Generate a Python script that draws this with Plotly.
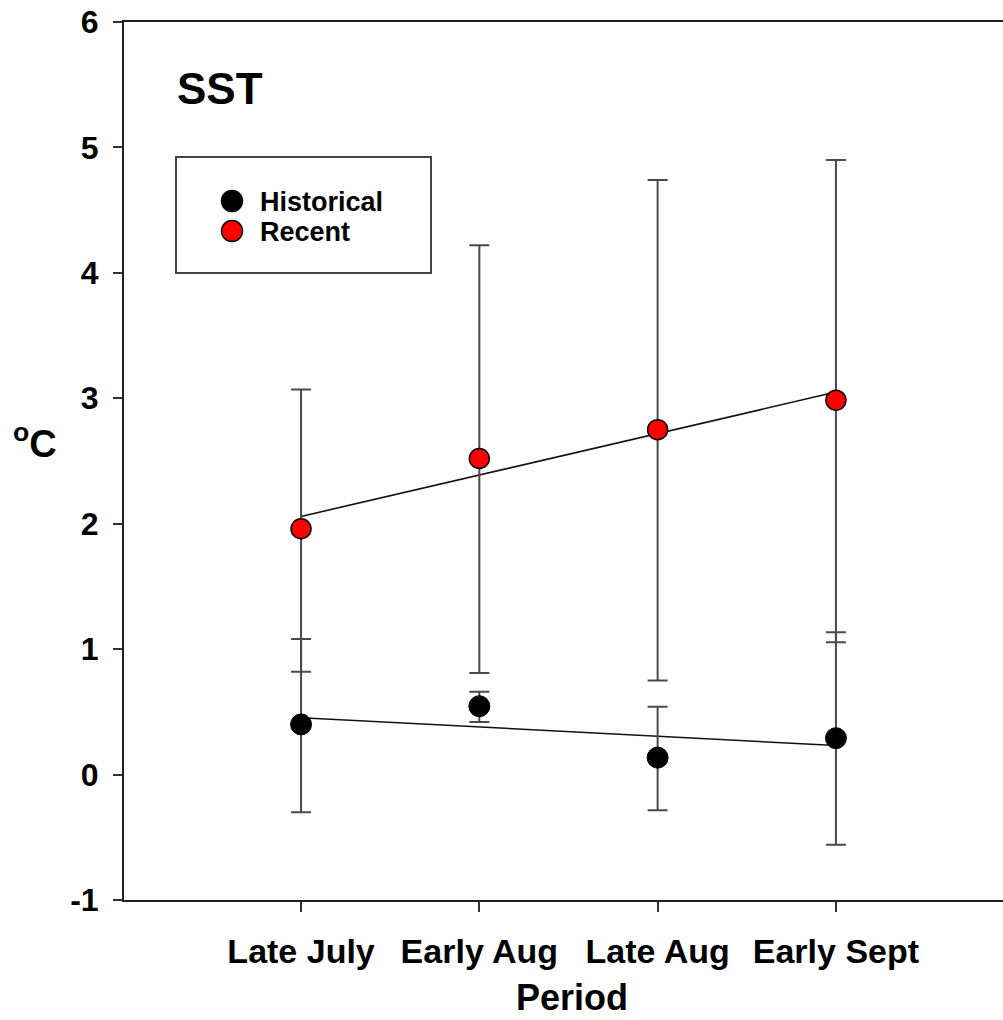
import numpy as np
import plotly.graph_objects as go

periods = ["Late July", "Early Aug", "Late Aug", "Early Sept"]
x_pos = [0, 1, 2, 3]

historical = [0.40, 0.545, 0.135, 0.29]
hist_err_plus = [0.68, 0.115, 0.405, 0.845]
hist_err_minus = [0.70, 0.125, 0.42, 0.85]

recent = [1.96, 2.52, 2.75, 2.985]
recent_err_plus = [1.11, 1.70, 1.99, 1.915]
recent_err_minus = [1.14, 1.71, 2.00, 1.93]

y_ticks = [-1, 0, 1, 2, 3, 4, 5, 6]
y_tick_text = ["-1", "0", "1", "2", "3", "4", "5", "6"]

legend_names = ["Historical", "Recent"]
legend_colors = ["black", "#ff0000"]

FONT = "Liberation Sans, Arial, sans-serif"
ERR_COLOR = "#4a4a4a"

fig = go.Figure()

# regression lines
for vals in (recent, historical):
    slope, intercept = np.polyfit(x_pos, vals, 1)
    xs = np.array([x_pos[0], x_pos[-1]])
    fig.add_trace(go.Scatter(x=xs, y=intercept + slope * xs, mode="lines",
                             line=dict(color="#111111", width=1.6),
                             showlegend=False, hoverinfo="skip"))

fig.add_trace(go.Scatter(
    x=x_pos, y=historical, mode="markers", name="Historical", showlegend=False,
    marker=dict(color="black", size=21, line=dict(color="black", width=1)),
    error_y=dict(type="data", symmetric=False, array=hist_err_plus,
                 arrayminus=hist_err_minus, color=ERR_COLOR, thickness=2, width=10),
))
fig.add_trace(go.Scatter(
    x=x_pos, y=recent, mode="markers", name="Recent", showlegend=False,
    marker=dict(color="#ff0000", size=20, line=dict(color="black", width=1.5)),
    error_y=dict(type="data", symmetric=False, array=recent_err_plus,
                 arrayminus=recent_err_minus, color=ERR_COLOR, thickness=2, width=10),
))

W, H = 1003, 1020
L, R, T, B = 124, 0, 22, 120
pw, ph = W - L - R, H - T - B

def px_x(p):
    return (p - L) / pw

def px_y(p):
    return (H - B - p) / ph

shapes = [dict(type="rect", xref="paper", yref="paper",
               x0=px_x(176), x1=px_x(431), y0=px_y(273), y1=px_y(157),
               line=dict(color="#444444", width=2), fillcolor="white", layer="below")]
annotations = []
rad = 10.5
for i, (nm, col) in enumerate(zip(legend_names, legend_colors)):
    cy = 201 + 30 * i
    cx = 232
    shapes.append(dict(type="circle", xref="paper", yref="paper",
                       x0=px_x(cx - rad), x1=px_x(cx + rad),
                       y0=px_y(cy + rad), y1=px_y(cy - rad),
                       fillcolor=col, line=dict(color="black", width=1.5)))
    annotations.append(dict(text=nm, xref="paper", yref="paper", x=px_x(258), y=px_y(cy + 1),
                            xanchor="left", yanchor="middle", showarrow=False,
                            font=dict(family=FONT, size=27, weight="bold", color="black")))

annotations += [
    dict(text="SST", xref="paper", yref="paper", x=px_x(175), y=px_y(88),
         xanchor="left", yanchor="middle", showarrow=False,
         font=dict(family=FONT, size=44, weight="bold", color="black")),
    dict(text="<sup>o</sup>C", xref="paper", yref="paper", x=px_x(11), y=px_y(441),
         xanchor="left", yanchor="middle", showarrow=False,
         font=dict(family=FONT, size=38, weight="bold", color="black")),
    dict(text="Period", xref="paper", yref="paper", x=px_x(572), y=px_y(997),
         xanchor="center", yanchor="middle", showarrow=False,
         font=dict(family=FONT, size=36, weight="bold", color="black")),
]

fig.update_layout(
    width=W, height=H,
    margin=dict(l=L, r=R, t=T, b=B, pad=0),
    plot_bgcolor="white", paper_bgcolor="white",
    font=dict(family=FONT, color="black"),
    showlegend=False,
    shapes=shapes,
    annotations=annotations,
    xaxis=dict(range=[-0.993, 3.937], tickmode="array", tickvals=x_pos, ticktext=periods,
               showgrid=False, zeroline=False, showline=True, linecolor="#222222",
               linewidth=2, mirror=True, ticks="outside", ticklen=10, tickwidth=1.5,
               tickcolor="#333333", ticklabelstandoff=10,
               tickfont=dict(family=FONT, size=34, weight="bold", color="black")),
    yaxis=dict(range=[-1, 6], tickmode="array", tickvals=y_ticks, ticktext=y_tick_text,
               showgrid=False, zeroline=False, showline=True, linecolor="#222222",
               linewidth=2, ticks="outside", ticklen=9, tickwidth=1.5,
               tickcolor="#333333", ticklabelstandoff=8, ticklabeloverflow="allow",
               tickfont=dict(family=FONT, size=32, weight="bold", color="black")),
)

fig.write_html("out.html", config={"displayModeBar": False},
               post_script="document.body.style.margin='0';document.body.style.overflow='hidden';")
